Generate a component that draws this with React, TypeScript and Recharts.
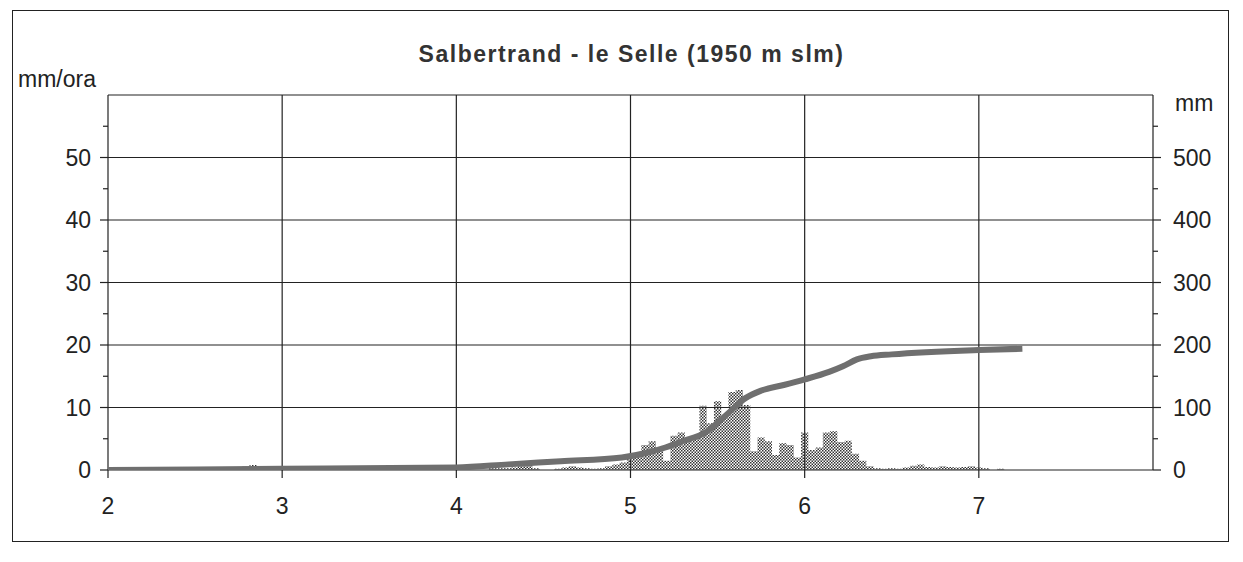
import { ComposedChart, Area, Line, XAxis, YAxis, CartesianGrid } from 'recharts';

// hourly rain intensity (mm/ora), 24 values per day
const day2Rate = [0, 0, 0, 0, 0, 0, 0, 0, 0, 0, 0, 0, 0, 0, 0, 0, 0, 0, 0, 0.6, 0.8, 0, 0, 0];
const day3Rate = [0, 0, 0, 0, 0, 0, 0, 0, 0, 0, 0, 0, 0, 0, 0, 0, 0, 0, 0, 0, 0, 0, 0, 0];
const day4Rate = [0, 0, 0, 0, 0, 0.3, 0.3, 0.3, 0.4, 1.0, 1.2, 0.3, 0, 0, 0.2, 0.4, 0.6, 0.4, 0.3, 0.2, 0.3, 0.6, 0.9, 1.2];
const day5Rate = [2.2, 2.5, 4, 4.6, 3.5, 1.5, 5.5, 6, 5, 5.5, 10.3, 7.5, 11, 8.5, 12.5, 12.8, 10.4, 3, 5.2, 4.6, 2.4, 4.3, 4, 2];
const day6Rate = [6, 3.2, 3.6, 6, 6.2, 4.5, 4.7, 2.6, 1.5, 0.6, 0.3, 0.2, 0.3, 0.2, 0.4, 0.7, 0.9, 0.5, 0.4, 0.6, 0.5, 0.4, 0.5, 0.6];
const day7Rate = [0.4, 0.3, 0, 0.2, 0, 0, 0];

const rateDays = [2, 3, 4, 5, 6, 7];
const rateByDay = [day2Rate, day3Rate, day4Rate, day5Rate, day6Rate, day7Rate];

// cumulative rain (mm)
const cumDays = [2, 3, 4, 4.3, 4.6, 4.95, 5.1, 5.2, 5.3, 5.43, 5.55, 5.66, 5.75, 5.88, 6, 6.14, 6.22, 6.3, 6.38, 6.5, 7, 7.25];
const cumMm = [0, 2, 4, 9, 14, 20, 28, 36, 46, 60, 88, 115, 127, 136, 145, 157, 166, 177, 182, 185, 192, 194];

const xTicks = [2, 3, 4, 5, 6, 7];
const xGrid = [2, 3, 4, 5, 6, 7, 8];
const leftTicks = [0, 5, 10, 15, 20, 25, 30, 35, 40, 45, 50, 55];
const leftGrid = [0, 10, 20, 30, 40, 50, 60];
const rightTicks = [0, 50, 100, 150, 200, 250, 300, 350, 400, 450, 500, 550];

const title = 'Salbertrand - le Selle (1950 m slm)';

const rateData = rateDays.flatMap((d, i) =>
  rateByDay[i].map((v, h) => ({ day: d + h / 24, rate: v }))
);
const cumData = cumDays.map((d, i) => ({ day: d, mm: cumMm[i] }));

const INK = '#222';
const FONT = '"Liberation Sans", Arial, sans-serif';
const W = 1243;
const H = 562;

const LeftTick = ({ x, y, payload }: any) => {
  const major = payload.value % 10 === 0;
  return (
    <g>
      <line x1={x - (major ? 8 : 5)} x2={x} y1={y} y2={y} stroke={INK} strokeWidth={1.2} />
      {major && (
        <text x={x - 17} y={y} dy="0.36em" textAnchor="end" fill={INK} fontSize={23} fontFamily={FONT}>
          {payload.value}
        </text>
      )}
    </g>
  );
};

const RightTick = ({ x, y, payload }: any) => {
  const major = payload.value % 100 === 0;
  return (
    <g>
      <line x1={x} x2={x + (major ? 8 : 5)} y1={y} y2={y} stroke={INK} strokeWidth={1.2} />
      {major && (
        <text x={x + 20} y={y} dy="0.36em" textAnchor="start" fill={INK} fontSize={23} fontFamily={FONT}>
          {payload.value}
        </text>
      )}
    </g>
  );
};

export default function App() {
  return (
    <div style={{ position: 'absolute', left: 0, top: 0, width: W, height: H, background: '#fff', fontFamily: FONT }}>
      <div
        style={{
          position: 'absolute',
          left: 12,
          top: 10,
          width: 1215,
          height: 530,
          border: `1.5px solid ${INK}`,
        }}
      />
      <div
        style={{
          position: 'absolute',
          left: 0,
          width: W,
          top: 43,
          textAlign: 'center',
          fontSize: 23,
          fontWeight: 'bold',
          letterSpacing: 1.5,
          lineHeight: '23px',
          color: '#333',
          paddingLeft: 10,
        }}
      >
        {title}
      </div>
      <div style={{ position: 'absolute', left: 18, top: 68, fontSize: 23, lineHeight: '23px', color: INK }}>mm/ora</div>
      <div style={{ position: 'absolute', left: 1175, top: 92, fontSize: 23, lineHeight: '23px', color: INK }}>mm</div>
      <div style={{ position: 'absolute', left: 0, top: 0 }}>
        <ComposedChart width={W} height={H} data={rateData} margin={{ top: 95, right: 30, bottom: 42, left: 48 }}>
          <defs>
            <pattern id="dots" width="3" height="3" patternUnits="userSpaceOnUse">
              <rect x="0" y="0" width="1.5" height="1.5" fill="#333" />
              <rect x="1.5" y="1.5" width="1.5" height="1.5" fill="#333" />
            </pattern>
          </defs>
          <CartesianGrid
            horizontalValues={leftGrid}
            verticalValues={xGrid}
            stroke={INK}
            strokeWidth={1.2}
            fill="none"
          />
          <XAxis
            dataKey="day"
            type="number"
            domain={[2, 8]}
            ticks={xTicks}
            allowDataOverflow
            axisLine={false}
            tickSize={8}
            tickMargin={20}
            tickLine={{ stroke: INK, strokeWidth: 1.2 }}
            tick={{ fill: INK, fontSize: 23, fontFamily: FONT }}
            height={50}
          />
          <YAxis
            type="number"
            domain={[0, 60]}
            ticks={leftTicks}
            allowDataOverflow
            axisLine={false}
            tickLine={false}
            tickSize={0}
            tickMargin={0}
            tick={<LeftTick />}
            width={60}
          />
          <YAxis
            yAxisId="right"
            orientation="right"
            type="number"
            domain={[0, 600]}
            ticks={rightTicks}
            allowDataOverflow
            axisLine={false}
            tickLine={false}
            tickSize={0}
            tickMargin={0}
            tick={<RightTick />}
            width={60}
          />
          <Area
            dataKey="rate"
            type="step"
            fill="url(#dots)"
            fillOpacity={1}
            stroke="none"
            isAnimationActive={false}
          />
          <Line
            yAxisId="right"
            data={cumData}
            dataKey="mm"
            type="monotone"
            stroke="#6f6f6f"
            strokeWidth={6}
            dot={false}
            isAnimationActive={false}
          />
        </ComposedChart>
      </div>
    </div>
  );
}
